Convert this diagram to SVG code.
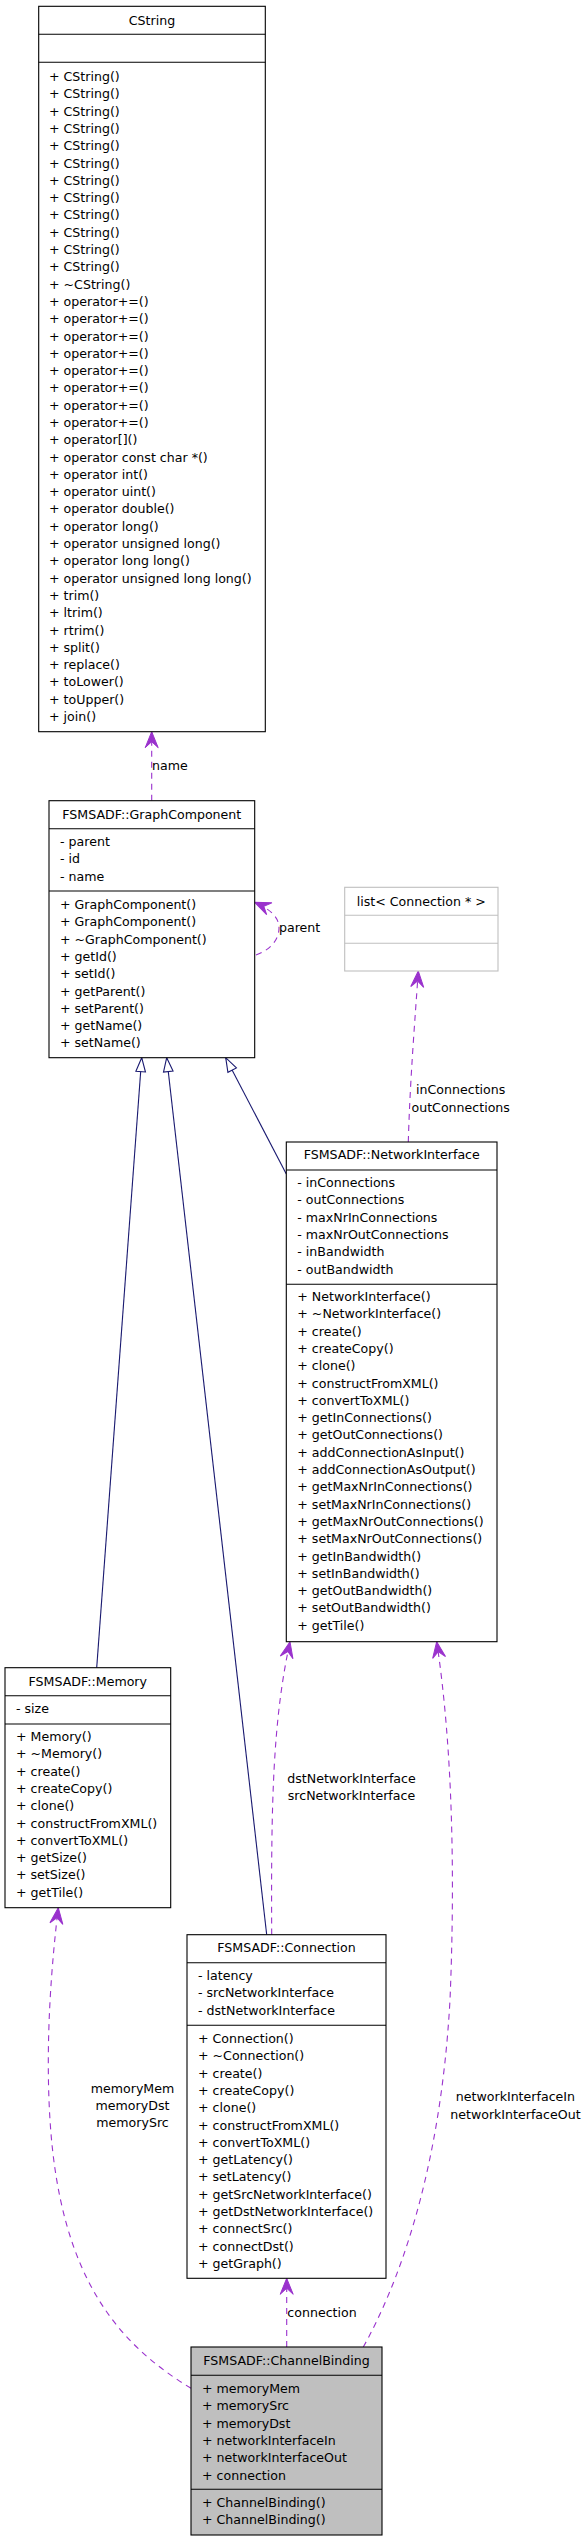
<svg xmlns="http://www.w3.org/2000/svg" width="585" height="2541" viewBox="0 0 585 2541">
<style>
text{font-family:"DejaVu Sans","Liberation Sans",sans-serif;font-size:12.6px;fill:#000}
.t{text-anchor:middle}
.box{fill:#fff;stroke:#000;stroke-width:1.1}
.sep{stroke:#000;stroke-width:1.1}
.gbox{fill:#fff;stroke:#bfbfbf;stroke-width:1.1}
.gsep{stroke:#bfbfbf;stroke-width:1.1}
.cur{fill:#bfbfbf;stroke:#000;stroke-width:1.1}
.inh{fill:none;stroke:#191970;stroke-width:1.1;marker-end:url(#tri)}
.use{fill:none;stroke:#9a32cd;stroke-width:1.1;stroke-dasharray:6,5;marker-end:url(#vee)}
</style>
<defs>
<marker id="vee" markerUnits="userSpaceOnUse" markerWidth="24" markerHeight="24" viewBox="-20 -12 24 24" refX="0" refY="0" orient="auto" overflow="visible"><path d="M0,0 L-16,-6.5 L-10,0 L-16,6.5 Z" fill="#9a32cd" stroke="#9a32cd" stroke-width="1"/></marker>
<marker id="tri" markerUnits="userSpaceOnUse" markerWidth="24" markerHeight="24" viewBox="-20 -12 24 24" refX="0" refY="0" orient="auto" overflow="visible"><path d="M0,0 L-14,-4.8 L-14,4.8 Z" fill="#fff" stroke="#191970" stroke-width="1.1"/></marker>
</defs>

<g id="connectors">
<path class="inh" d="M96.7,1667.7 L141.7,1057.7"/>
<path class="inh" d="M266.7,1934.7 L166.7,1057.7"/>
<path class="inh" d="M286.3,1174 L225.7,1057.7"/>
<path class="use" d="M151.7,800.7 L151.7,731.7"/>
<path class="use" d="M256,955 C270,950 279,940 279,928 C279,918 272,910 254.7,902.3"/>
<path class="use" d="M408.3,1142 C410,1080 415,1020 418.3,971"/>
<path class="use" d="M271.7,1934.7 C271,1800 273,1720 290,1641.7"/>
<path class="use" d="M191,2388.3 C120,2345 60,2280 50,2120 C45,2040 52,1960 58.3,1907.7"/>
<path class="use" d="M363.3,2347 C395,2290 440,2180 450,2000 C455,1880 453,1750 436.7,1641.7"/>
<path class="use" d="M286.7,2347 L286.7,2278.3"/>
<text x="152" y="770">name</text>
<text x="279" y="932">parent</text>
<text class="t" x="460.7" y="1094">inConnections</text>
<text class="t" x="460.7" y="1111.5">outConnections</text>
<text class="t" x="351.5" y="1783">dstNetworkInterface</text>
<text class="t" x="351.5" y="1800">srcNetworkInterface</text>
<text class="t" x="132.5" y="2093">memoryMem</text>
<text class="t" x="132.5" y="2110">memoryDst</text>
<text class="t" x="132.5" y="2127">memorySrc</text>
<text class="t" x="515.4" y="2101">networkInterfaceIn</text>
<text class="t" x="515.4" y="2119">networkInterfaceOut</text>
<text x="287.3" y="2317">connection</text>
</g>

<g id="CString">
<rect class="box" x="38.7" y="6.3" width="226.6" height="725.4"/>
<line class="sep" x1="38.7" y1="34.3" x2="265.3" y2="34.3"/>
<line class="sep" x1="38.7" y1="62.3" x2="265.3" y2="62.3"/>
<text class="t" x="152" y="25">CString</text>
<text x="49" y="81"><tspan x="49">+ CString()</tspan><tspan x="49" dy="17.3">+ CString()</tspan><tspan x="49" dy="17.3">+ CString()</tspan><tspan x="49" dy="17.3">+ CString()</tspan><tspan x="49" dy="17.3">+ CString()</tspan><tspan x="49" dy="17.3">+ CString()</tspan><tspan x="49" dy="17.3">+ CString()</tspan><tspan x="49" dy="17.3">+ CString()</tspan><tspan x="49" dy="17.3">+ CString()</tspan><tspan x="49" dy="17.3">+ CString()</tspan><tspan x="49" dy="17.3">+ CString()</tspan><tspan x="49" dy="17.3">+ CString()</tspan><tspan x="49" dy="17.3">+ ~CString()</tspan><tspan x="49" dy="17.3">+ operator+=()</tspan><tspan x="49" dy="17.3">+ operator+=()</tspan><tspan x="49" dy="17.3">+ operator+=()</tspan><tspan x="49" dy="17.3">+ operator+=()</tspan><tspan x="49" dy="17.3">+ operator+=()</tspan><tspan x="49" dy="17.3">+ operator+=()</tspan><tspan x="49" dy="17.3">+ operator+=()</tspan><tspan x="49" dy="17.3">+ operator+=()</tspan><tspan x="49" dy="17.3">+ operator[]()</tspan><tspan x="49" dy="17.3">+ operator const char *()</tspan><tspan x="49" dy="17.3">+ operator int()</tspan><tspan x="49" dy="17.3">+ operator uint()</tspan><tspan x="49" dy="17.3">+ operator double()</tspan><tspan x="49" dy="17.3">+ operator long()</tspan><tspan x="49" dy="17.3">+ operator unsigned long()</tspan><tspan x="49" dy="17.3">+ operator long long()</tspan><tspan x="49" dy="17.3">+ operator unsigned long long()</tspan><tspan x="49" dy="17.3">+ trim()</tspan><tspan x="49" dy="17.3">+ ltrim()</tspan><tspan x="49" dy="17.3">+ rtrim()</tspan><tspan x="49" dy="17.3">+ split()</tspan><tspan x="49" dy="17.3">+ replace()</tspan><tspan x="49" dy="17.3">+ toLower()</tspan><tspan x="49" dy="17.3">+ toUpper()</tspan><tspan x="49" dy="17.3">+ join()</tspan></text>
</g>

<g id="GraphComponent">
<rect class="box" x="49" y="800.7" width="205.7" height="257"/>
<line class="sep" x1="49" y1="828.7" x2="254.7" y2="828.7"/>
<line class="sep" x1="49" y1="891" x2="254.7" y2="891"/>
<text class="t" x="151.8" y="818.5">FSMSADF::GraphComponent</text>
<text x="60" y="846"><tspan x="60">- parent</tspan><tspan x="60" dy="17.3">- id</tspan><tspan x="60" dy="17.3">- name</tspan></text>
<text x="60" y="909"><tspan x="60">+ GraphComponent()</tspan><tspan x="60" dy="17.3">+ GraphComponent()</tspan><tspan x="60" dy="17.3">+ ~GraphComponent()</tspan><tspan x="60" dy="17.3">+ getId()</tspan><tspan x="60" dy="17.3">+ setId()</tspan><tspan x="60" dy="17.3">+ getParent()</tspan><tspan x="60" dy="17.3">+ setParent()</tspan><tspan x="60" dy="17.3">+ getName()</tspan><tspan x="60" dy="17.3">+ setName()</tspan></text>
</g>

<g id="ListConnection">
<rect class="gbox" x="344.7" y="887.3" width="153.3" height="83.7"/>
<line class="gsep" x1="344.7" y1="915.3" x2="498" y2="915.3"/>
<line class="gsep" x1="344.7" y1="943.3" x2="498" y2="943.3"/>
<text class="t" x="421.3" y="905.5">list&lt; Connection * &gt;</text>
</g>

<g id="NetworkInterface">
<rect class="box" x="286.3" y="1142" width="210.7" height="499.7"/>
<line class="sep" x1="286.3" y1="1170" x2="497" y2="1170"/>
<line class="sep" x1="286.3" y1="1284.3" x2="497" y2="1284.3"/>
<text class="t" x="391.7" y="1159">FSMSADF::NetworkInterface</text>
<text x="297.3" y="1187"><tspan x="297.3">- inConnections</tspan><tspan x="297.3" dy="17.3">- outConnections</tspan><tspan x="297.3" dy="17.3">- maxNrInConnections</tspan><tspan x="297.3" dy="17.3">- maxNrOutConnections</tspan><tspan x="297.3" dy="17.3">- inBandwidth</tspan><tspan x="297.3" dy="17.3">- outBandwidth</tspan></text>
<text x="297.3" y="1301"><tspan x="297.3">+ NetworkInterface()</tspan><tspan x="297.3" dy="17.3">+ ~NetworkInterface()</tspan><tspan x="297.3" dy="17.3">+ create()</tspan><tspan x="297.3" dy="17.3">+ createCopy()</tspan><tspan x="297.3" dy="17.3">+ clone()</tspan><tspan x="297.3" dy="17.3">+ constructFromXML()</tspan><tspan x="297.3" dy="17.3">+ convertToXML()</tspan><tspan x="297.3" dy="17.3">+ getInConnections()</tspan><tspan x="297.3" dy="17.3">+ getOutConnections()</tspan><tspan x="297.3" dy="17.3">+ addConnectionAsInput()</tspan><tspan x="297.3" dy="17.3">+ addConnectionAsOutput()</tspan><tspan x="297.3" dy="17.3">+ getMaxNrInConnections()</tspan><tspan x="297.3" dy="17.3">+ setMaxNrInConnections()</tspan><tspan x="297.3" dy="17.3">+ getMaxNrOutConnections()</tspan><tspan x="297.3" dy="17.3">+ setMaxNrOutConnections()</tspan><tspan x="297.3" dy="17.3">+ getInBandwidth()</tspan><tspan x="297.3" dy="17.3">+ setInBandwidth()</tspan><tspan x="297.3" dy="17.3">+ getOutBandwidth()</tspan><tspan x="297.3" dy="17.3">+ setOutBandwidth()</tspan><tspan x="297.3" dy="17.3">+ getTile()</tspan></text>
</g>

<g id="Memory">
<rect class="box" x="5" y="1667.7" width="165.7" height="240"/>
<line class="sep" x1="5" y1="1695.7" x2="170.7" y2="1695.7"/>
<line class="sep" x1="5" y1="1724" x2="170.7" y2="1724"/>
<text class="t" x="87.8" y="1685.5">FSMSADF::Memory</text>
<text x="16" y="1713">- size</text>
<text x="16" y="1741"><tspan x="16">+ Memory()</tspan><tspan x="16" dy="17.3">+ ~Memory()</tspan><tspan x="16" dy="17.3">+ create()</tspan><tspan x="16" dy="17.3">+ createCopy()</tspan><tspan x="16" dy="17.3">+ clone()</tspan><tspan x="16" dy="17.3">+ constructFromXML()</tspan><tspan x="16" dy="17.3">+ convertToXML()</tspan><tspan x="16" dy="17.3">+ getSize()</tspan><tspan x="16" dy="17.3">+ setSize()</tspan><tspan x="16" dy="17.3">+ getTile()</tspan></text>
</g>

<g id="Connection">
<rect class="box" x="187" y="1934.7" width="199" height="343.6"/>
<line class="sep" x1="187" y1="1962.7" x2="386" y2="1962.7"/>
<line class="sep" x1="187" y1="2025.3" x2="386" y2="2025.3"/>
<text class="t" x="286.5" y="1952">FSMSADF::Connection</text>
<text x="198" y="1980"><tspan x="198">- latency</tspan><tspan x="198" dy="17.3">- srcNetworkInterface</tspan><tspan x="198" dy="17.3">- dstNetworkInterface</tspan></text>
<text x="198" y="2043"><tspan x="198">+ Connection()</tspan><tspan x="198" dy="17.3">+ ~Connection()</tspan><tspan x="198" dy="17.3">+ create()</tspan><tspan x="198" dy="17.3">+ createCopy()</tspan><tspan x="198" dy="17.3">+ clone()</tspan><tspan x="198" dy="17.3">+ constructFromXML()</tspan><tspan x="198" dy="17.3">+ convertToXML()</tspan><tspan x="198" dy="17.3">+ getLatency()</tspan><tspan x="198" dy="17.3">+ setLatency()</tspan><tspan x="198" dy="17.3">+ getSrcNetworkInterface()</tspan><tspan x="198" dy="17.3">+ getDstNetworkInterface()</tspan><tspan x="198" dy="17.3">+ connectSrc()</tspan><tspan x="198" dy="17.3">+ connectDst()</tspan><tspan x="198" dy="17.3">+ getGraph()</tspan></text>
</g>

<g id="ChannelBinding">
<rect class="cur" x="191" y="2347" width="191" height="188"/>
<line class="sep" x1="191" y1="2375.3" x2="382" y2="2375.3"/>
<line class="sep" x1="191" y1="2489.3" x2="382" y2="2489.3"/>
<text class="t" x="286.5" y="2364.5">FSMSADF::ChannelBinding</text>
<text x="202" y="2393"><tspan x="202">+ memoryMem</tspan><tspan x="202" dy="17.3">+ memorySrc</tspan><tspan x="202" dy="17.3">+ memoryDst</tspan><tspan x="202" dy="17.3">+ networkInterfaceIn</tspan><tspan x="202" dy="17.3">+ networkInterfaceOut</tspan><tspan x="202" dy="17.3">+ connection</tspan></text>
<text x="202" y="2507"><tspan x="202">+ ChannelBinding()</tspan><tspan x="202" dy="17.3">+ ChannelBinding()</tspan></text>
</g>
</svg>
